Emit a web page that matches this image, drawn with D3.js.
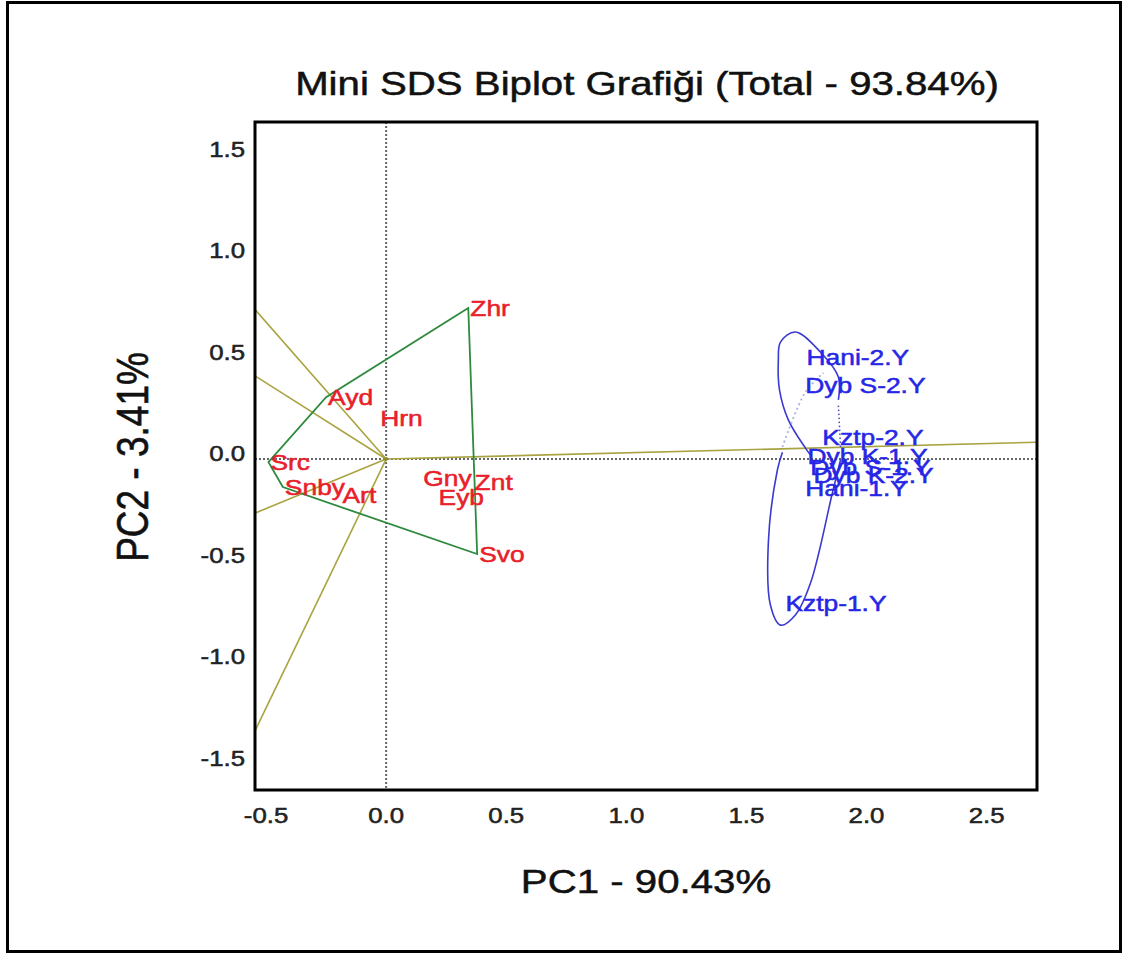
<!DOCTYPE html>
<html>
<head>
<meta charset="utf-8">
<script src="https://cdn.jsdelivr.net/npm/d3@7"></script>
<style>
  body { margin: 0; background: #fff; }
  text { font-family: "Liberation Sans", Arial, sans-serif; }
</style>
</head>
<body>
<div id="chart"></div>
<script>
// Genotypes (red) - PC1 / PC2 scores
const genoNames = ["Zhr", "Ayd", "Hrn", "Src", "Snby", "Art", "Gny", "Znt", "Eyb", "Svo"];
const genoPC1 = [0.342, -0.25, -0.033, -0.49, -0.43, -0.19, 0.146, 0.36, 0.21, 0.379];
const genoPC2 = [0.744, 0.305, 0.20, -0.015, -0.138, -0.177, -0.094, -0.113, -0.187, -0.468];

// Polygon (convex hull) vertices, in order
const hullNames = ["Zhr", "Ayd", "Src", "Snby", "Svo"];

// Environments (blue)
const envNames = ["Hani-2.Y", "Dyb S-2.Y", "Kztp-2.Y", "Dyb K-1.Y", "Dyb S-1.Y", "Dyb K-2.Y", "Hani-1.Y", "Kztp-1.Y"];
const envPC1 = [1.742, 1.737, 1.808, 1.746, 1.758, 1.771, 1.737, 1.654];
const envPC2 = [0.502, 0.365, 0.108, 0.015, -0.039, -0.079, -0.143, -0.709];

// Environment ellipse outline pieces (PC1, PC2)
const ellipseLower = [[1.650, 0.034], [1.629, -0.054], [1.592, -0.399], [1.600, -0.719], [1.642, -0.818],
                      [1.704, -0.768], [1.767, -0.611], [1.858, -0.167], [1.892, -0.005]];
const ellipseUpper = [[1.883, 0.291], [1.883, 0.404], [1.808, 0.527], [1.704, 0.626], [1.642, 0.576],
                      [1.633, 0.488], [1.638, 0.340], [1.675, 0.192], [1.746, 0.054], [1.767, 0.020]];
const ellipseHidden = [[1.892, 0.059], [1.883, 0.266]];
const ellipseBack = [[1.650, 0.059], [1.746, 0.330], [1.821, 0.424]];

// Axis ticks and titles
const xTicks = [-0.5, 0.0, 0.5, 1.0, 1.5, 2.0, 2.5];
const yTicks = [-1.5, -1.0, -0.5, 0.0, 0.5, 1.0, 1.5];
const xDomain = [-0.546, 2.71];
const yDomain = [-1.63, 1.66];
const titleText = "Mini SDS Biplot Grafiği (Total - 93.84%)";
const xTitle = "PC1 - 90.43%";
const yTitle = "PC2 - 3.41%";

const W = 1123, H = 954;
const margin = { top: 122, right: 86, bottom: 164, left: 255 };
const width = W - margin.left - margin.right;
const height = H - margin.top - margin.bottom;
const stretch = 1.2; // the reference text is a bit wide

const svg = d3.select("#chart").append("svg")
  .attr("width", W)
  .attr("height", H);

// outer frame
svg.append("rect")
  .attr("x", 7.5).attr("y", 2.5)
  .attr("width", W - 10).attr("height", H - 5)
  .attr("fill", "none").attr("stroke", "#000").attr("stroke-width", 3);

const g = svg.append("g")
  .attr("transform", `translate(${margin.left}, ${margin.top})`);

const xScale = d3.scaleLinear().domain(xDomain).range([0, width]);
const yScale = d3.scaleLinear().domain(yDomain).range([height, 0]);

svg.append("defs").append("clipPath").attr("id", "plotClip")
  .append("rect").attr("width", width).attr("height", height);

const plot = g.append("g").attr("clip-path", "url(#plotClip)");

// wide text helper, slightly heavy like the reference
function wideText(sel, x, y, str, color) {
  return sel.append("text")
    .attr("transform", `translate(${x}, ${y}) scale(${stretch}, 1)`)
    .attr("fill", color)
    .attr("stroke", color)
    .attr("stroke-width", 0.5)
    .text(str);
}

const fmt = v => v.toFixed(1); // plain hyphen minus

// dotted zero lines
plot.append("line")
  .attr("x1", xScale(0)).attr("x2", xScale(0))
  .attr("y1", 0).attr("y2", height)
  .attr("stroke", "#666").attr("stroke-width", 2).attr("stroke-dasharray", "2,2");
plot.append("line")
  .attr("x1", 0).attr("x2", width)
  .attr("y1", yScale(0)).attr("y2", yScale(0))
  .attr("stroke", "#666").attr("stroke-width", 2).attr("stroke-dasharray", "2,2");

// hull and perpendicular rays
const geno = genoNames.map((n, i) => ({ name: n, x: genoPC1[i], y: genoPC2[i] }));
const byName = new Map(geno.map(d => [d.name, d]));
const hull = hullNames.map(n => byName.get(n));

hull.forEach((a, i) => {
  const b = hull[(i + 1) % hull.length];
  const dx = b.x - a.x, dy = b.y - a.y;
  const t = -(a.x * dx + a.y * dy) / (dx * dx + dy * dy);
  const fx = a.x + t * dx, fy = a.y + t * dy; // foot of perpendicular from origin
  const len = Math.hypot(fx, fy);
  const far = 10;
  plot.append("line")
    .attr("x1", xScale(0)).attr("y1", yScale(0))
    .attr("x2", xScale(fx / len * far)).attr("y2", yScale(fy / len * far))
    .attr("stroke", "#a9a341").attr("stroke-width", 1.6);
});

plot.append("path")
  .datum(hull)
  .attr("d", d3.line().x(d => xScale(d.x)).y(d => yScale(d.y)).curve(d3.curveLinearClosed))
  .attr("fill", "none").attr("stroke", "#2e8a3e").attr("stroke-width", 1.8);

plot.append("circle")
  .attr("cx", xScale(0)).attr("cy", yScale(0)).attr("r", 2)
  .attr("fill", "#8a8a30");

// ellipse
const ell = d3.line().x(d => xScale(d[0])).y(d => yScale(d[1])).curve(d3.curveCatmullRom);
plot.append("path").datum(ellipseLower).attr("d", ell)
  .attr("fill", "none").attr("stroke", "#3a3ad0").attr("stroke-width", 1.6);
plot.append("path").datum(ellipseUpper).attr("d", ell)
  .attr("fill", "none").attr("stroke", "#3a3ad0").attr("stroke-width", 1.6);
plot.append("path").datum(ellipseHidden).attr("d", ell)
  .attr("fill", "none").attr("stroke", "#4848b8").attr("stroke-width", 1.5)
  .attr("stroke-dasharray", "1.5,2.5");
plot.append("path").datum(ellipseBack).attr("d", ell)
  .attr("fill", "none").attr("stroke", "#a8b0e8").attr("stroke-width", 1.8)
  .attr("stroke-dasharray", "2,3");

// genotype labels
geno.forEach(d => {
  wideText(g, xScale(d.x) + 2, yScale(d.y), d.name, "#e8202a")
    .attr("dominant-baseline", "central")
    .attr("font-size", 22);
});

// environment labels
envNames.forEach((n, i) => {
  wideText(g, xScale(envPC1[i]) + 2, yScale(envPC2[i]), n, "#2626e6")
    .attr("dominant-baseline", "central")
    .attr("font-size", 22);
});

// plot frame
g.append("rect")
  .attr("width", width).attr("height", height)
  .attr("fill", "none").attr("stroke", "#000").attr("stroke-width", 3);

// tick labels (no tick marks)
xTicks.forEach(v => {
  wideText(g, xScale(v), height + 26, fmt(v), "#222")
    .attr("text-anchor", "middle")
    .attr("dominant-baseline", "central")
    .attr("font-size", 21.5);
});
yTicks.forEach(v => {
  wideText(g, -10, yScale(v) - 5, fmt(v), "#222")
    .attr("text-anchor", "end")
    .attr("dominant-baseline", "central")
    .attr("font-size", 21.5);
});

// titles
wideText(svg, margin.left + width / 2 + 1, 84, titleText, "#111")
  .attr("text-anchor", "middle")
  .attr("dominant-baseline", "central")
  .attr("font-size", 33.5);

wideText(svg, margin.left + width / 2, 882, xTitle, "#111")
  .attr("text-anchor", "middle")
  .attr("dominant-baseline", "central")
  .attr("font-size", 33.5);

svg.append("text")
  .attr("transform", `translate(133, 457) scale(${stretch}, 1) rotate(-90)`)
  .attr("text-anchor", "middle")
  .attr("dominant-baseline", "central")
  .attr("font-size", 37)
  .attr("fill", "#111")
  .attr("stroke", "#111")
  .attr("stroke-width", 0.5)
  .text(yTitle);
</script>
</body>
</html>
